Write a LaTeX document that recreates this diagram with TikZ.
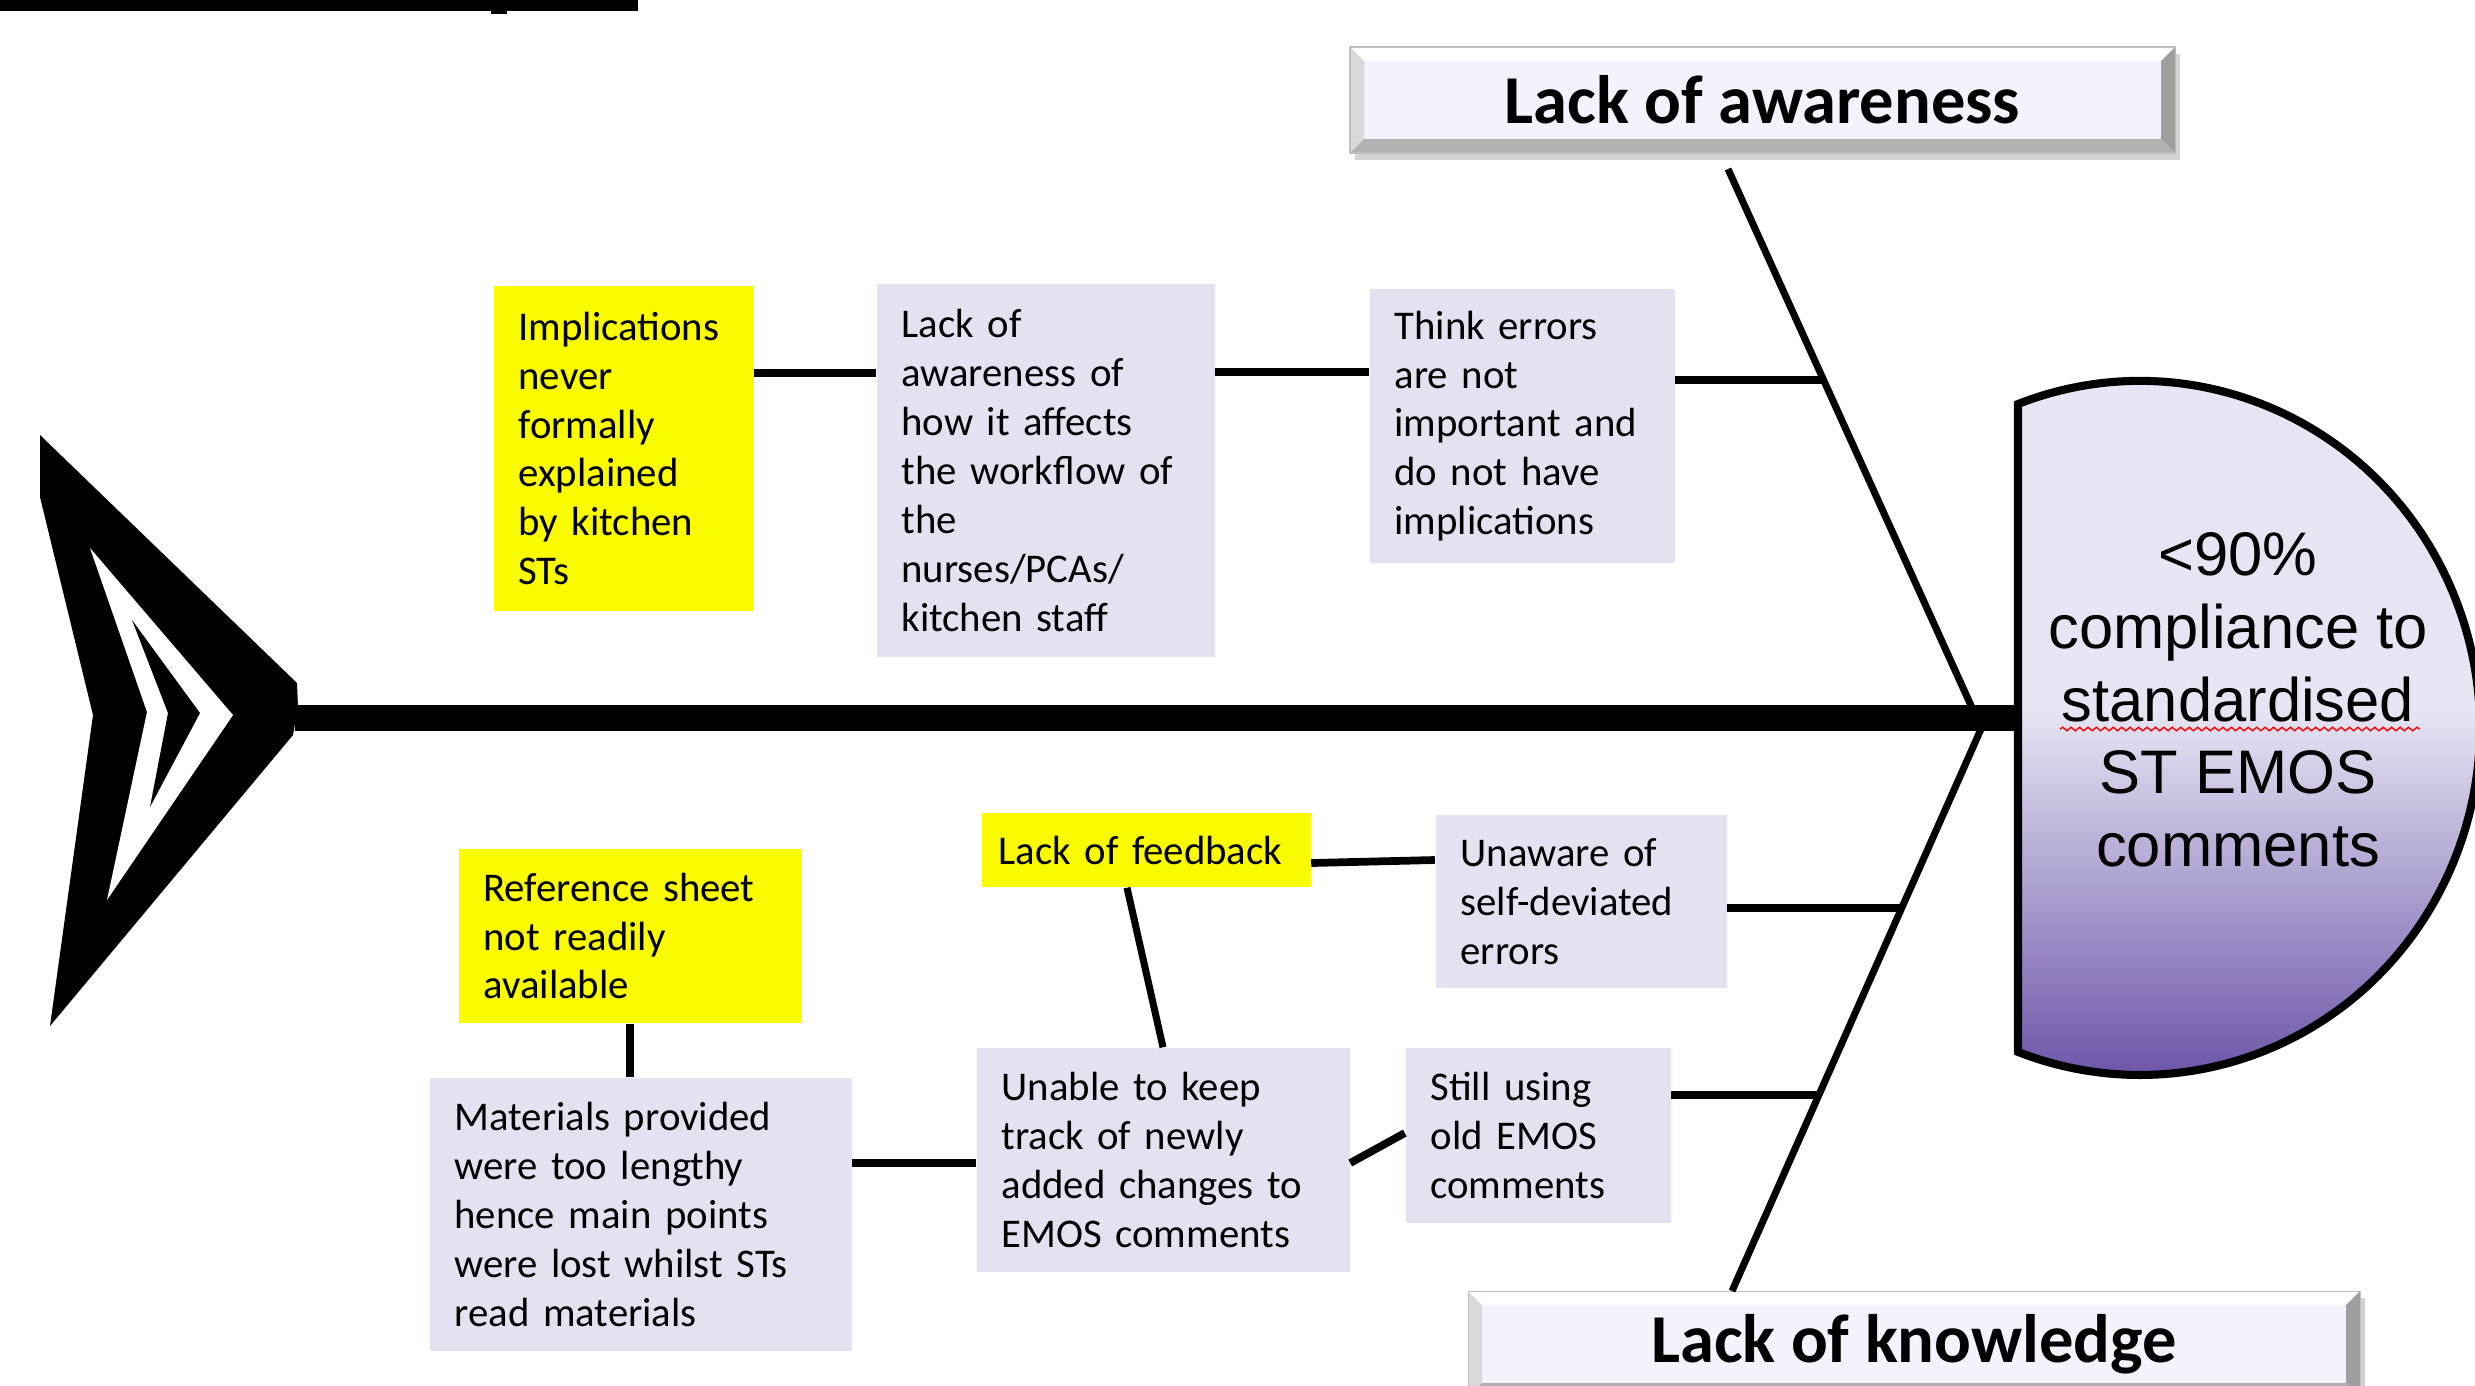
\documentclass[tikz,border=0pt]{standalone}
\usepackage{fontspec}
\setmainfont{Carlito}
\newfontfamily\headfont{Liberation Sans}
\usetikzlibrary{calc,shadows,decorations.pathmorphing}
\hyphenpenalty=10000
\exhyphenpenalty=10000

\definecolor{causefill}{RGB}{228,226,240}
\definecolor{rootyellow}{RGB}{250,250,0}
\definecolor{catfill}{RGB}{244,242,252}
\definecolor{headtop}{RGB}{231,229,243}
\definecolor{headbot}{RGB}{104,80,166}

\tikzset{
  cause/.style 2 args={rectangle, fill=causefill, align=left, text width=#1,
    minimum height=#2, inner xsep=0.25cm, inner ysep=0pt,
    font=\fontsize{11.6}{13.9}\selectfont},
  rootcause/.style 2 args={cause={#1}{#2}, fill=rootyellow},
  category/.style={rectangle, fill=catfill, draw=gray!50, line width=0.3pt,
    minimum height=1.06cm, inner sep=0pt,
    font=\bfseries\fontsize{19.5}{23}\selectfont,
    drop shadow={shadow xshift=0.05cm, shadow yshift=-0.07cm, opacity=0.35},
    path picture={
      \fill[white] (path picture bounding box.north west) -- (path picture bounding box.north east)
        -- ([shift={(-0.14,-0.14)}]path picture bounding box.north east)
        -- ([shift={(0.14,-0.14)}]path picture bounding box.north west) -- cycle;
      \fill[gray!30] (path picture bounding box.north west) -- (path picture bounding box.south west)
        -- ([shift={(0.14,0.14)}]path picture bounding box.south west)
        -- ([shift={(0.14,-0.14)}]path picture bounding box.north west) -- cycle;
      \fill[gray!75] (path picture bounding box.north east) -- (path picture bounding box.south east)
        -- ([shift={(-0.14,0.14)}]path picture bounding box.south east)
        -- ([shift={(-0.14,-0.14)}]path picture bounding box.north east) -- cycle;
      \fill[gray!60] (path picture bounding box.south west) -- (path picture bounding box.south east)
        -- ([shift={(-0.14,0.14)}]path picture bounding box.south east)
        -- ([shift={(0.14,0.14)}]path picture bounding box.south west) -- cycle;
    }},
  twig/.style={line width=2.2pt},
  bone/.style={line width=2pt},
  spine/.style={line width=7.5pt},
}

\begin{document}
\begin{tikzpicture}
\useasboundingbox (0,0) rectangle (24.75,-13.85);

% cut-off heading rule
\fill (0,0) rectangle (6.38,-0.11);
\fill (4.91,0) rectangle (5.07,-0.14);

% fish tail
\fill (0.40,-4.35) -- (2.97,-6.83) -- (2.98,-7.07) -- (2.93,-7.35) -- (0.50,-10.26)
  -- (0.93,-7.15) -- (0.40,-4.97) -- cycle;
\fill[white] (0.90,-5.48) -- (2.33,-7.15) -- (1.07,-9.00) -- (1.47,-7.12) -- cycle;
\fill (1.32,-6.20) -- (2.00,-7.13) -- (1.50,-8.07) -- (1.68,-7.13) -- cycle;

% fish head (effect)
\begin{scope}
  \clip (20.18,-4.04) arc[start angle=111, end angle=-111, x radius=3.40, y radius=3.47] -- cycle;
  \fill[headtop] (20.1,-3.7) rectangle (24.9,-7.1);
  \shade[top color=headtop, bottom color=headbot] (20.1,-7.1) rectangle (24.9,-10.9);
\end{scope}
\draw[line width=2.3pt]
  (20.18,-4.04) arc[start angle=111, end angle=-111, x radius=3.40, y radius=3.47] -- cycle;
\node[font=\headfont\fontsize{17.5}{20.7}\selectfont, align=center, inner sep=0pt] (effect)
  at (22.38,-7.00) {<90\%\\compliance to\\standardised\\ST EMOS\\comments};
\draw[red, line width=0.4pt, decorate, decoration={snake, amplitude=0.5pt, segment length=2.4pt}]
  (20.60,-7.29) -- (24.20,-7.29);

% spine
\coordinate (tailtip) at (2.95,-7.18);
\coordinate (headleft) at (20.18,-7.18);
\draw[spine] (tailtip) -- (headleft);

% categories
\node[category, minimum width=8.25cm] (awarecat) at (17.625,-1.00) {Lack of awareness};
\node[category, minimum width=8.92cm] (knowcat) at (19.14,-13.44) {Lack of knowledge};

% main bones
\coordinate (upend) at (17.28,-1.69);
\coordinate (upjoint) at (19.73,-7.10);
\coordinate (lowjoint) at (19.81,-7.29);
\coordinate (lowend) at (17.32,-12.91);
\draw[bone] (upend) -- (upjoint);
\draw[bone] (lowjoint) -- (lowend);

% causes: lack of awareness
\node[rootcause={2.10cm}{3.25cm}] (impl) at (6.235,-4.485) {Implications\\never\\formally\\explained\\by kitchen\\STs};
\node[cause={2.88cm}{3.73cm}] (awar) at (10.455,-4.705) {Lack of\\awareness of\\how it affects\\the workflow of\\the\\nurses/PCAs/\\kitchen staff};
\node[cause={2.55cm}{2.74cm}] (think) at (15.22,-4.26) {Think errors\\are not\\important and\\do not have\\implications};

% causes: lack of knowledge
\node[rootcause={2.95cm}{0.74cm}, inner xsep=0.17cm] (feedback) at (11.46,-8.50) {Lack of feedback};
\node[cause={2.41cm}{1.73cm}] (unaware) at (15.81,-9.015) {Unaware of\\self-deviated\\errors};
\node[cause={2.15cm}{1.75cm}] (still) at (15.38,-11.355) {Still using\\old EMOS\\comments};
\node[cause={3.23cm}{2.24cm}] (unable) at (11.63,-11.60) {Unable to keep\\track of newly\\added changes to\\EMOS comments};
\node[cause={3.72cm}{2.73cm}] (materials) at (6.405,-12.145) {Materials provided\\were too lengthy\\hence main points\\were lost whilst STs\\read materials};
\node[rootcause={2.93cm}{1.74cm}] (refsheet) at (6.30,-9.36) {Reference sheet\\not readily\\available};

% connectors
\coordinate (thinkjoin) at ($(upend)!0.39!(upjoint)$);
\coordinate (unawarejoin) at ($(lowjoint)!0.3185!(lowend)$);
\coordinate (stilljoin) at ($(lowjoint)!0.651!(lowend)$);

\draw[twig] (impl.east |- 0,-3.73) -- (awar.west |- 0,-3.73);
\draw[twig] (awar.east |- 0,-3.72) -- (think.west |- 0,-3.72);
\draw[twig] (think.east |- thinkjoin) -- (thinkjoin);

\draw[twig] (feedback.east |- 0,-8.63) -- (unaware.west |- 0,-8.60);
\draw[twig] (unaware.east |- unawarejoin) -- (unawarejoin);
\draw[twig] (still.east |- stilljoin) -- (stilljoin);
\draw[twig] (unable.east |- 0,-11.63) -- (still.west |- 0,-11.33);
\draw[bone] ([xshift=-0.19cm]feedback.south) -- (unable.north);
\draw[twig] (materials.east |- 0,-11.63) -- (unable.west |- 0,-11.63);
\draw[bone] (refsheet.south) -- (refsheet.south |- materials.north);

\end{tikzpicture}
\end{document}
